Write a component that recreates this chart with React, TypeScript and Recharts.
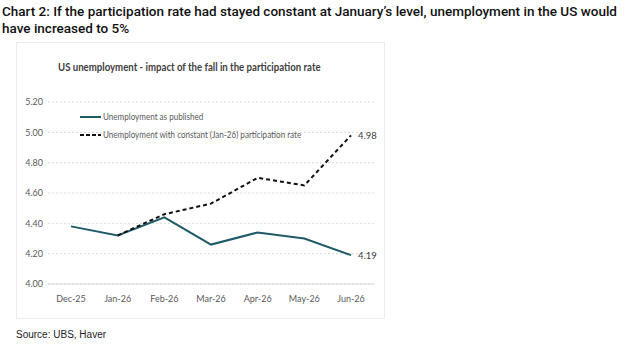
import React from 'react';
import { LineChart, Line, XAxis, YAxis, CartesianGrid, ReferenceLine, LabelList } from 'recharts';

const months = ['Dec-25', 'Jan-26', 'Feb-26', 'Mar-26', 'Apr-26', 'May-26', 'Jun-26'];
const published = [4.38, 4.32, 4.44, 4.26, 4.34, 4.30, 4.19];
const constantRate = [null, 4.32, 4.46, 4.53, 4.70, 4.65, 4.98];
const yTicks = [4.0, 4.2, 4.4, 4.6, 4.8, 5.0, 5.2];

const data = months.map((m, i) => ({ month: m, published: published[i], constant: constantRate[i] }));

const lastIdx = months.length - 1;

const EndLabel = (props: any) => {
  const { x, y, value, index } = props;
  if (index !== lastIdx || value == null) return null;
  return (
    <text x={x + 7} y={y + 4} fill="#404040" fontSize={9.5} fontFamily="Lato, sans-serif" textAnchor="start">
      {Number(value).toFixed(2)}
    </text>
  );
};

const narrow: React.CSSProperties = { display: 'inline-block', transform: 'scaleX(0.85)', transformOrigin: 'left center', whiteSpace: 'nowrap' };
const narrowTitle: React.CSSProperties = { ...narrow, transform: 'scaleX(0.875)' };

export default function App() {
  return (
    <div style={{ position: 'absolute', left: 0, top: 0, width: 640, height: 346, background: '#fff', overflow: 'hidden' }}>
      <div style={{ position: 'absolute', left: 2, top: 3, width: 636, fontFamily: 'Roboto, sans-serif', fontWeight: 500, fontSize: 13.5, lineHeight: '17px', color: '#111' }}>
        Chart 2: If the participation rate had stayed constant at January’s level, unemployment in the US would have increased to 5%
      </div>
      <div style={{ position: 'absolute', left: 16, top: 42, width: 369, height: 277, border: '1px solid #ececec', boxSizing: 'border-box' }} />
      <div style={{ position: 'absolute', left: 58, top: 60, fontFamily: 'Lato, sans-serif', fontWeight: 700, fontSize: 11, color: '#404040', whiteSpace: 'nowrap' }}>
        <span style={narrowTitle}>US unemployment - impact of the fall in the participation rate</span>
      </div>
      <div style={{ position: 'absolute', left: 16, top: 42 }}>
        <LineChart width={369} height={277} data={data} margin={{ top: 60, right: 11, bottom: 0, left: 0 }}>
          <CartesianGrid vertical={false} stroke="#d9d9d9" strokeDasharray="2 2" />
          <XAxis dataKey="month" axisLine={false} tickLine={false} height={35} padding={{ left: 23, right: 23 }} tick={{ fill: '#595959', fontSize: 9, fontFamily: 'Lato, sans-serif' }} tickMargin={6} />
          <YAxis domain={[4, 5.2]} ticks={yTicks} width={32} axisLine={false} tickLine={false} tickFormatter={(v: number) => v.toFixed(2)} tick={{ fill: '#595959', fontSize: 9, fontFamily: 'Lato, sans-serif', dx: 3 } as any} />
          <ReferenceLine y={4} stroke="#d9d9d9" strokeWidth={1} />
          <Line dataKey="published" stroke="#1f5a68" strokeWidth={2} dot={false} isAnimationActive={false}>
            <LabelList dataKey="published" content={EndLabel} />
          </Line>
          <Line dataKey="constant" stroke="#111" strokeWidth={2} strokeDasharray="4 3" dot={false} isAnimationActive={false} connectNulls={false}>
            <LabelList dataKey="constant" content={EndLabel} />
          </Line>
        </LineChart>
      </div>
      <div style={{ position: 'absolute', left: 80, top: 110, fontFamily: 'Lato, sans-serif', fontSize: 9.5, color: '#595959', lineHeight: '12px' }}>
        <div style={{ display: 'flex', alignItems: 'center', height: 14 }}>
          <svg width={22} height={6}><line x1={0} y1={3} x2={21} y2={3} stroke="#1f5a68" strokeWidth={2} /></svg>
          <span style={{ marginLeft: 1, ...narrow }}>Unemployment as published</span>
        </div>
        <div style={{ display: 'flex', alignItems: 'center', height: 14, marginTop: 4 }}>
          <svg width={22} height={6}><line x1={0} y1={3} x2={21} y2={3} stroke="#111" strokeWidth={2} strokeDasharray="4 2" /></svg>
          <span style={{ marginLeft: 1, ...narrow }}>Unemployment with constant (Jan-26) participation rate</span>
        </div>
      </div>
      <div style={{ position: 'absolute', left: 16, top: 329, fontFamily: 'Liberation Sans, Arial, sans-serif', fontSize: 10, color: '#222' }}>
        Source: UBS, Haver
      </div>
    </div>
  );
}
